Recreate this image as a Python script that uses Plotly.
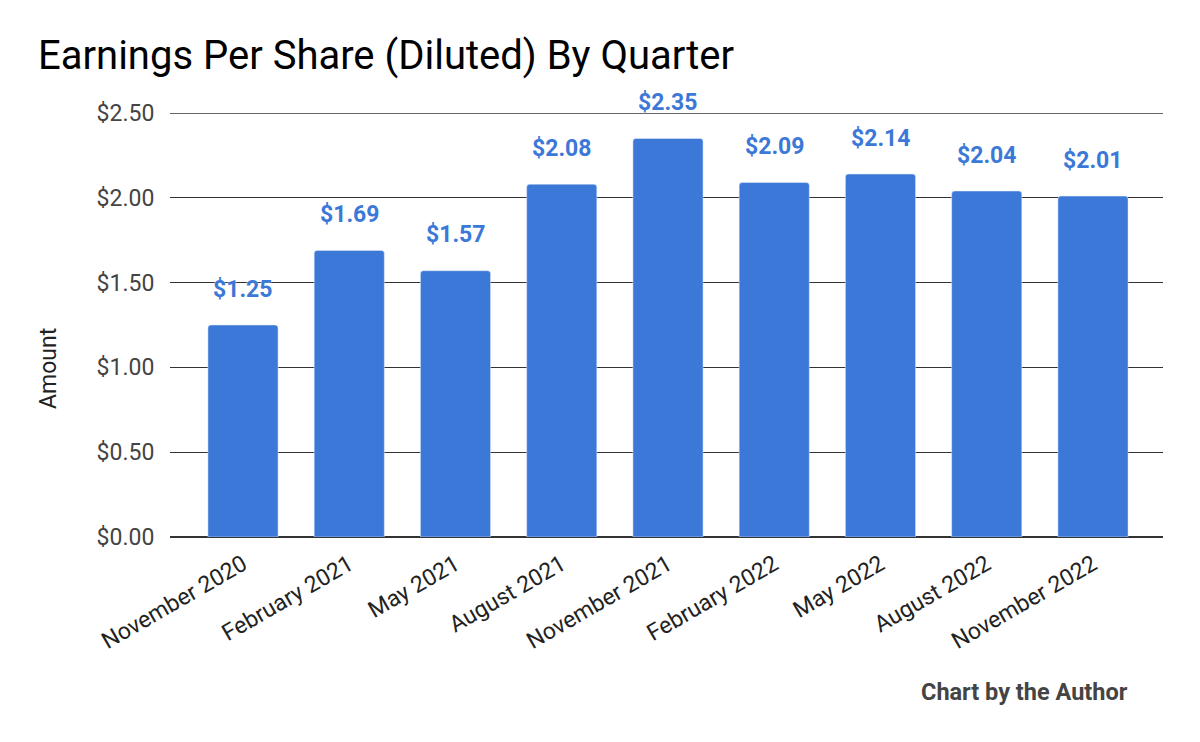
import plotly.graph_objects as go

quarters = ["November 2020", "February 2021", "May 2021", "August 2021", "November 2021",
            "February 2022", "May 2022", "August 2022", "November 2022"]
eps = [1.25, 1.69, 1.57, 2.08, 2.35, 2.09, 2.14, 2.04, 2.01]
y_ticks = [0, 0.5, 1.0, 1.5, 2.0, 2.5]
y_tick_labels = ["$0.00", "$0.50", "$1.00", "$1.50", "$2.00", "$2.50"]

BLUE = "#3c78d8"
OFF = 8  # page body margin
W, H = 1200 - OFF, 742 - OFF
L, R, T, B = 170 - OFF, 37, 113 - OFF, 205
pw, ph = W - L - R, H - T - B

fig = go.Figure()
fig.add_trace(go.Bar(
    x=list(range(len(quarters))), y=eps, marker_color=BLUE, width=0.66,
    hoverinfo="skip",
))

for i, v in enumerate(eps):
    fig.add_annotation(
        x=i, y=v, xref="x", yref="y", text=f"<b>${v:.2f}</b>", showarrow=False,
        yshift=36, font=dict(family="Roboto", size=23, color=BLUE,
                             shadow="0px 0px 2px white"),
    )

fig.add_annotation(
    xref="paper", yref="paper", x=(48 - OFF - L) / pw, y=(T + ph - (369 - OFF)) / ph,
    text="Amount", textangle=-90,
    showarrow=False, xanchor="center", yanchor="middle",
    font=dict(family="Roboto", size=23, color="#222"),
)
fig.add_annotation(
    xref="paper", yref="paper", x=(1130 - OFF - L) / pw, y=(T + ph - (692 - OFF)) / ph,
    text="<b>Chart by the Author</b>", showarrow=False, xanchor="right", yanchor="middle",
    font=dict(family="Roboto", size=23.5, color="#444"),
)

fig.add_shape(type="line", xref="paper", yref="y", x0=0, x1=1, y0=2.5, y1=2.5,
              line=dict(color="#333", width=1.3), layer="below")

fig.update_layout(
    width=W, height=H,
    margin=dict(l=L, r=R, t=T, b=B),
    paper_bgcolor="white", plot_bgcolor="white",
    barcornerradius=3,
    showlegend=False,
    title=dict(text="Earnings Per Share (Diluted) By Quarter", xref="container", yref="container",
               x=(38 - OFF) / W, y=1 - (55 - OFF) / H, xanchor="left", yanchor="middle",
               font=dict(family="Roboto", size=40, color="black")),
    xaxis=dict(
        tickmode="array", tickvals=list(range(len(quarters))), ticktext=quarters,
        tickangle=-30, range=[-0.687, 8.659], showgrid=False, zeroline=False,
        tickfont=dict(family="Roboto", size=23, color="#222"),
        ticks="outside", ticklen=4, tickcolor="rgba(0,0,0,0)", automargin=False,
    ),
    yaxis=dict(
        range=[0, 2.5], tickmode="array", tickvals=y_ticks, ticktext=y_tick_labels,
        showgrid=True, gridcolor="#333", gridwidth=1.3,
        zeroline=True, zerolinecolor="#333", zerolinewidth=1.6,
        tickfont=dict(family="Roboto", size=23, color="#444"),
        ticks="outside", ticklen=10, tickcolor="rgba(0,0,0,0)", automargin=False,
    ),
)

fig.write_html("out.html")
